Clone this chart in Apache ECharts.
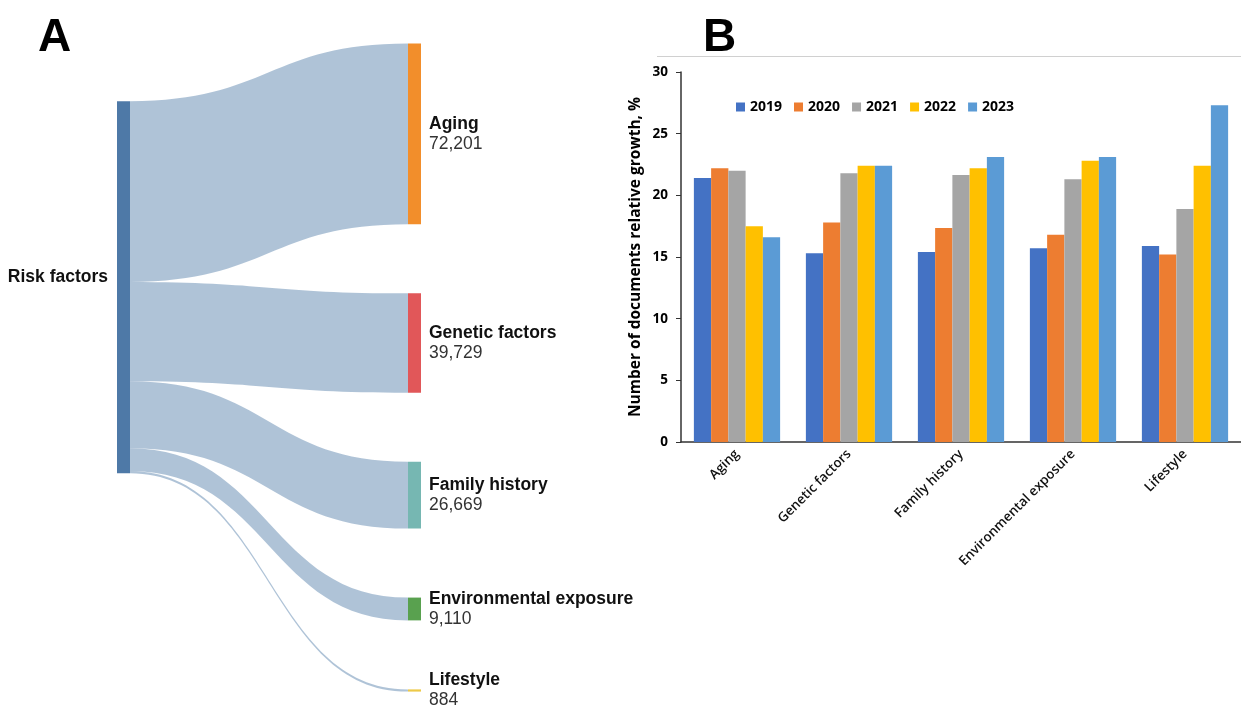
<!DOCTYPE html>
<html>
<head>
<meta charset="utf-8">
<title>Risk factors</title>
<script src="https://cdn.jsdelivr.net/npm/echarts@6/dist/echarts.min.js"></script>
<style>
  html, body { margin: 0; padding: 0; background: #fff; }
  #chart { width: 1241px; height: 705px; }
</style>
</head>
<body>
<div id="chart"></div>
<script>
// panel A: documents per risk factor
const sourceName = 'Risk factors'
const factors = ['Aging', 'Genetic factors', 'Family history', 'Environmental exposure', 'Lifestyle']
const documentCounts = [72201, 39729, 26669, 9110, 884]

// panel B: relative growth (%) per year
const years = ['2019', '2020', '2021', '2022', '2023']
const growth2019 = [21.4, 15.3, 15.4, 15.7, 15.9]
const growth2020 = [22.2, 17.8, 17.35, 16.8, 15.2]
const growth2021 = [22.0, 21.8, 21.65, 21.3, 18.9]
const growth2022 = [17.5, 22.4, 22.2, 22.8, 22.4]
const growth2023 = [16.6, 22.4, 23.1, 23.1, 27.3]
const growthByYear = [growth2019, growth2020, growth2021, growth2022, growth2023]

const nodeColors = ['#F28E2B', '#E15759', '#76B7B2', '#59A14F', '#EDC948']
const yearColors = ['#4472C4', '#ED7D31', '#A5A5A5', '#FFC000', '#5B9BD5']

const sankeyFont = 'Liberation Sans, Arial, sans-serif'
const barFont = 'Open Sans, sans-serif'

const nodes = [{
  name: sourceName,
  itemStyle: { color: '#4E79A7' },
  label: {
    position: 'left',
    distance: 9,
    offset: [0, -10],
    formatter: '{n|{b}}'
  }
}]
factors.forEach((f, i) => {
  nodes.push({ name: f, value: documentCounts[i], itemStyle: { color: nodeColors[i] } })
})
const links = factors.map((f, i) => ({ source: sourceName, target: f, value: documentCounts[i] }))

const barSeries = years.map((y, i) => ({
  name: y,
  type: 'bar',
  barGap: '0%',
  barCategoryGap: '23%',
  itemStyle: { color: yearColors[i] },
  emphasis: { disabled: true },
  data: growthByYear[i]
}))

const chart = echarts.init(document.getElementById('chart'))

chart.setOption({
  animation: false,
  backgroundColor: '#fff',
  title: [
    { text: 'A', left: 33, top: 10, textStyle: { fontFamily: sankeyFont, fontSize: 46, fontWeight: 'bold', color: '#000' } },
    { text: 'B', left: 698, top: 10, textStyle: { fontFamily: sankeyFont, fontSize: 46, fontWeight: 'bold', color: '#000' } }
  ],
  graphic: [
    // thin frame line above panel B
    { type: 'line', shape: { x1: 657, y1: 56.5, x2: 1241, y2: 56.5 }, style: { stroke: '#d0d0d0', lineWidth: 1 } }
  ],
  legend: {
    data: years,
    left: 731,
    top: 95,
    icon: 'rect',
    itemWidth: 9,
    itemHeight: 9,
    itemGap: 12,
    textStyle: { fontFamily: barFont, fontSize: 14, fontWeight: 'bold', color: '#000' }
  },
  grid: {
    left: 681,
    right: 0,
    top: 72,
    bottom: 263
  },
  xAxis: {
    type: 'category',
    data: factors,
    axisLine: { lineStyle: { color: '#333', width: 1.5 } },
    axisTick: { alignWithLabel: true, length: 5, lineStyle: { color: '#333' } },
    axisLabel: {
      rotate: 45,
      margin: 10,
      interval: 0,
      fontFamily: barFont,
      fontSize: 13.3,
      fontWeight: 600,
      color: '#111'
    }
  },
  yAxis: {
    type: 'value',
    min: 0,
    max: 30,
    interval: 5,
    name: 'Number of documents relative growth, %',
    nameLocation: 'middle',
    nameGap: 37,
    nameTextStyle: { fontFamily: barFont, fontSize: 15.5, fontWeight: 'bold', color: '#000' },
    axisLine: { show: true, lineStyle: { color: '#333', width: 1.5 } },
    axisTick: { show: true, length: 5, lineStyle: { color: '#333' } },
    splitLine: { show: false },
    axisLabel: { margin: 13, fontFamily: barFont, fontSize: 13.5, fontWeight: 'bold', color: '#000' }
  },
  series: [
    {
      type: 'sankey',
      left: 117,
      top: 43.6,
      width: 304,
      height: 648,
      nodeWidth: 13,
      nodeGap: 69,
      layoutIterations: 32,
      draggable: false,
      emphasis: { disabled: true },
      itemStyle: { borderWidth: 0 },
      lineStyle: { color: '#4E79A7', opacity: 0.45, curveness: 0.5 },
      label: {
        position: 'right',
        distance: 8,
        formatter: p => '{n|' + p.name + '}\n{v|' + p.value.toLocaleString('en-US') + '}',
        rich: {
          n: { fontFamily: sankeyFont, fontSize: 17.5, fontWeight: 'bold', color: '#111', lineHeight: 20 },
          v: { fontFamily: sankeyFont, fontSize: 17.5, color: '#333', lineHeight: 20 }
        }
      },
      data: nodes,
      links: links
    },
    ...barSeries
  ]
})
</script>
</body>
</html>
